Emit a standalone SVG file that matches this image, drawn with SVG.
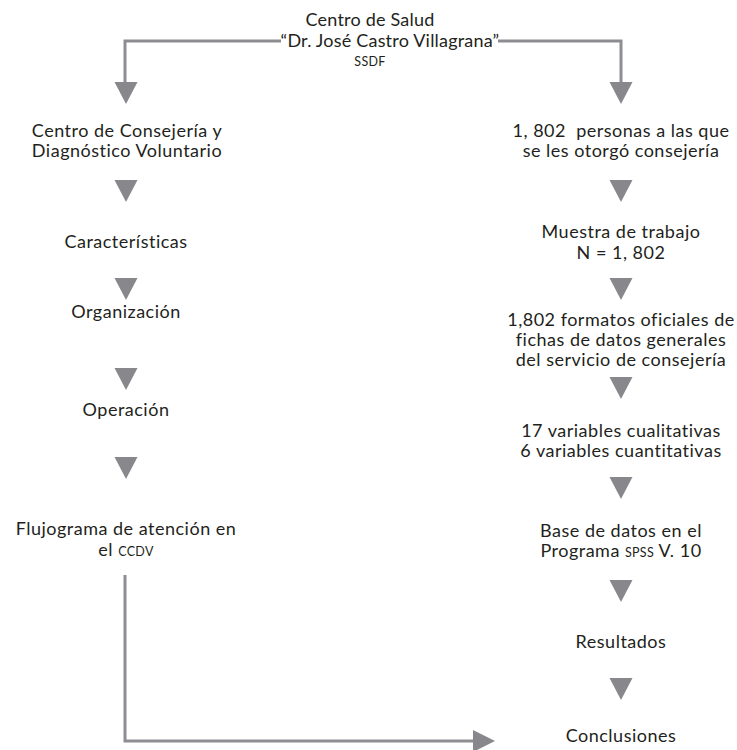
<svg xmlns="http://www.w3.org/2000/svg" xmlns:xlink="http://www.w3.org/1999/xlink" width="737" height="750" viewBox="0 0 737 750">
<style>
text{font-family:"Lato","Noto Sans",sans-serif;font-size:18px;letter-spacing:0.5px;fill:#231f20;text-anchor:middle;white-space:pre}
.t{letter-spacing:0.2px}
.sc{font-size:12.5px;letter-spacing:0.3px}
.ln{fill:none;stroke:#8e8e92;stroke-width:3}
.tri{fill:#88888c}
</style>
<defs>
<polygon id="td" points="-11.5,0 11.5,0 0,22"/>
</defs>
<rect width="737" height="750" fill="#ffffff"/>
<g id="connectors">
<polyline class="ln" points="281,41 125,41 125,84"/>
<polyline class="ln" points="498,41 621,41 621,84"/>
<polyline class="ln" points="125,575 125,741 475,741"/>
<use xlink:href="#td" class="tri" x="126" y="82"/>
<use xlink:href="#td" class="tri" x="126" y="180"/>
<use xlink:href="#td" class="tri" x="126" y="278"/>
<use xlink:href="#td" class="tri" x="126" y="368"/>
<use xlink:href="#td" class="tri" x="126" y="457"/>
<use xlink:href="#td" class="tri" x="621" y="82"/>
<use xlink:href="#td" class="tri" x="621" y="180"/>
<use xlink:href="#td" class="tri" x="621" y="278"/>
<use xlink:href="#td" class="tri" x="621" y="377"/>
<use xlink:href="#td" class="tri" x="621" y="477"/>
<use xlink:href="#td" class="tri" x="621" y="580"/>
<use xlink:href="#td" class="tri" x="621" y="678"/>
<polygon class="tri" points="473,730 495,741 473,752"/>
</g>
<g id="n-centro">
<text x="370" y="26" class="t">Centro de Salud</text>
<text x="390" y="47" class="t">“Dr. José Castro Villagrana”</text>
<text x="370" y="66" class="sc">SSDF</text>
</g>
<g id="n-ccdv">
<text x="127" y="137">Centro de Consejería y</text>
<text x="127" y="157">Diagnóstico Voluntario</text>
</g>
<g id="n-caracteristicas"><text x="126" y="248">Características</text></g>
<g id="n-organizacion"><text x="126" y="318">Organización</text></g>
<g id="n-operacion"><text x="126" y="416">Operación</text></g>
<g id="n-flujograma">
<text x="126" y="535">Flujograma de atención en</text>
<text x="126" y="556">el <tspan class="sc">CCDV</tspan></text>
</g>
<g id="n-personas">
<text x="621" y="137">1, 802  personas a las que</text>
<text x="621" y="157">se les otorgó consejería</text>
</g>
<g id="n-muestra">
<text x="621" y="238">Muestra de trabajo</text>
<text x="621" y="259">N = 1, 802</text>
</g>
<g id="n-formatos">
<text x="621" y="326">1,802 formatos oficiales de</text>
<text x="621" y="346">fichas de datos generales</text>
<text x="621" y="366">del servicio de consejería</text>
</g>
<g id="n-variables">
<text x="621" y="437">17 variables cualitativas</text>
<text x="621" y="457">6 variables cuantitativas</text>
</g>
<g id="n-base">
<text x="621" y="537">Base de datos en el</text>
<text x="621" y="557">Programa <tspan class="sc">SPSS</tspan> V. 10</text>
</g>
<g id="n-resultados"><text x="621" y="648">Resultados</text></g>
<g id="n-conclusiones"><text x="621" y="742">Conclusiones</text></g>
</svg>
